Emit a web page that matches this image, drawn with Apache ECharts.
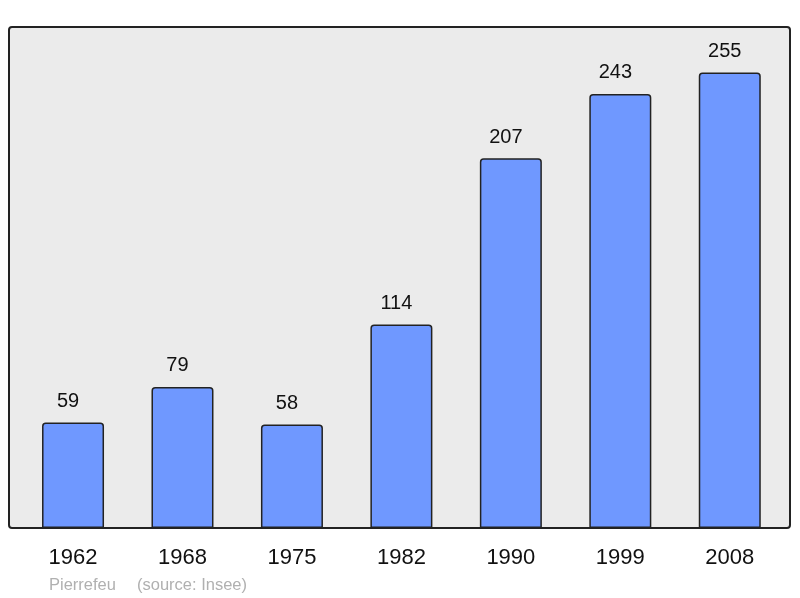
<!DOCTYPE html>
<html><head><meta charset="utf-8">
<script src="https://cdn.jsdelivr.net/npm/echarts@6/dist/echarts.min.js"></script>
<style>html,body{margin:0;padding:0;background:#fff}#c{width:800px;height:598px}</style>
</head><body><div id="c"></div>
<script>
const years = ['1962','1968','1975','1982','1990','1999','2008'];
const population = [59, 79, 58, 114, 207, 243, 255];
const sourceName = 'Pierrefeu';
const sourceText = '(source: Insee)';

const chart = echarts.init(document.getElementById('c'), null, {renderer:'canvas'});
const FONT = '"Liberation Sans", Arial, sans-serif';
chart.setOption({
  animation: false,
  graphic: [
    {type:'rect', z:0, shape:{x:9, y:27, width:781, height:501, r:3},
     style:{fill:'#ebebeb', stroke:'#222', lineWidth:2}},
    {type:'text', left:49, top:577, z:5,
     style:{text:sourceName, fill:'#b0b0b0', font:'16.5px ' + FONT}},
    {type:'text', left:137, top:577, z:5,
     style:{text:sourceText, fill:'#b0b0b0', font:'16.5px ' + FONT}}
  ],
  grid: {left:18.3, right:15.5, top:27, bottom:70, containLabel:false},
  xAxis: {type:'category', data:years,
    axisLine:{show:false}, axisTick:{show:false},
    axisLabel:{color:'#111', fontSize:22, fontFamily:FONT, margin:19}},
  yAxis: {type:'value', min:0, max:280.5, show:false, splitLine:{show:false}},
  series: [{type:'bar', data:population, barWidth:62, z:3,
    itemStyle:{color:'#6f98ff', borderColor:'#222', borderWidth:1.5, borderRadius:[3,3,0,0]},
    label:{show:true, position:'top', distance:11, offset:[-5,0], color:'#111', fontSize:20, fontFamily:FONT}}]
});
</script></body></html>
